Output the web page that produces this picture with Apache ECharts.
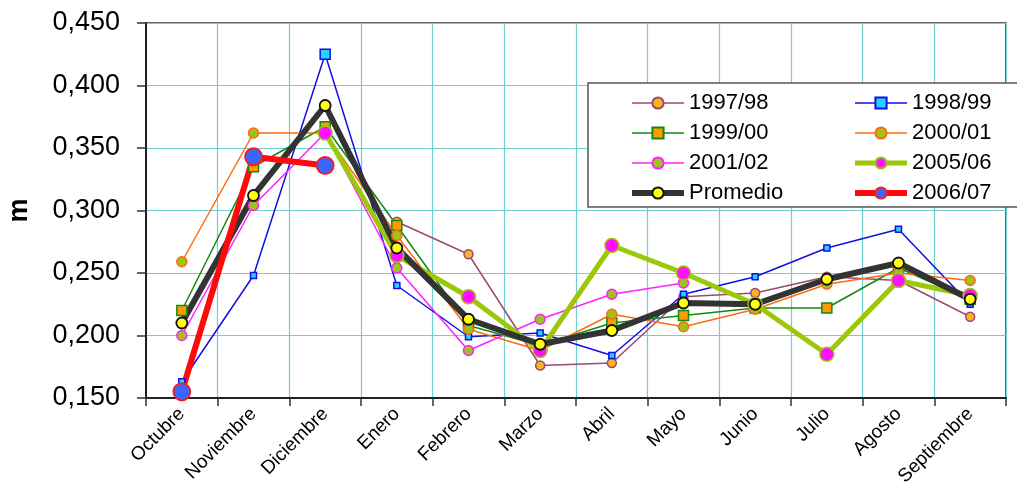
<!DOCTYPE html>
<html>
<head>
<meta charset="utf-8">
<script src="https://cdn.jsdelivr.net/npm/echarts@6/dist/echarts.min.js"></script>
<style>
  html, body { margin: 0; padding: 0; background: #fff; }
  #chart { width: 1017px; height: 490px; }
</style>
</head>
<body>
<div id="chart"></div>
<script>
const categories = ['Octubre','Noviembre','Diciembre','Enero','Febrero','Marzo','Abril','Mayo','Junio','Julio','Agosto','Septiembre'];
const yTicks = [0.15, 0.45, 0.05];

const s1997 = [null, null, null, 0.291, 0.265, 0.176, 0.178, 0.231, 0.234, 0.247, 0.244, 0.215];
const s1998 = [0.163, 0.248, 0.425, 0.240, 0.199, 0.202, 0.184, 0.233, 0.247, 0.270, 0.285, 0.225];
const s1999 = [0.220, 0.335, 0.367, 0.288, 0.208, 0.192, 0.210, 0.216, 0.222, 0.222, 0.254, 0.229];
const s2000 = [0.259, 0.362, 0.362, 0.280, 0.205, 0.188, 0.217, 0.207, 0.221, 0.241, 0.250, 0.244];
const s2001 = [0.200, 0.304, 0.362, 0.254, 0.188, 0.213, 0.233, 0.242, null, null, null, null];
const s2005 = [null, null, 0.362, 0.264, 0.231, 0.188, 0.272, 0.250, 0.225, 0.185, 0.244, 0.232];
const promedio = [0.210, 0.312, 0.384, 0.270, 0.213, 0.193, 0.204, 0.226, 0.225, 0.245, 0.258, 0.229];
const s2006 = [0.155, 0.343, 0.336, null, null, null, null, null, null, null, null, null];

const FONT = '"Liberation Sans", Arial, sans-serif';

function line(name, data, color, width, symbol, size, fill, border, bw) {
  return {
    name: name, type: 'line', data: data,
    symbol: symbol, symbolSize: size, showSymbol: true,
    lineStyle: { color: color, width: width },
    itemStyle: { color: fill, borderColor: border, borderWidth: bw },
    emphasis: { disabled: true },
    animation: false
  };
}

const series = [
  line('1997/98', s1997, '#9b4a72', 1.5, 'circle', 9, '#ffb31a', '#9b4a72', 1.5),
  line('1998/99', s1998, '#1010e0', 1.5, 'rect', function (v, p) { return p.dataIndex === 2 ? 10 : 6; }, '#22d4ff', '#1010e0', 1.5),
  line('1999/00', s1999, '#128a12', 1.5, 'rect', 10, '#ff9a00', '#128a12', 1.5),
  line('2000/01', s2000, '#ff6a10', 1.5, 'circle', 10, '#9cc41a', '#ff6a10', 1.5),
  line('2001/02', s2001, '#ff20ff', 1.5, 'circle', 10, '#9cc41a', '#ff20ff', 1.5),
  line('2005/06', s2005, '#9cc80a', 5, 'circle', 14, '#ff10ff', '#9cc80a', 1.5),
  line('Promedio', promedio, '#333333', 6, 'circle', 11, '#ffff10', '#111111', 1.8),
  line('2006/07', s2006, '#ff0a0a', 6, 'circle', 17, '#3a66ff', '#ff1a1a', 1.8)
];

function legendItem(name, width) {
  return { name: name, lineStyle: { width: width } };
}

const legendCommon = {
  orient: 'vertical',
  top: 87,
  itemWidth: 52,
  itemHeight: 14,
  itemGap: 8,
  textStyle: { fontSize: 22, color: '#000', fontFamily: FONT },
  selectedMode: false,
  z: 5
};

const chart = echarts.init(document.getElementById('chart'), null, { renderer: 'canvas' });
chart.setOption({
  backgroundColor: '#fff',
  animation: false,
  textStyle: { fontFamily: FONT },
  grid: {
    left: 146, right: 11, top: 23, bottom: 92,
    containLabel: false,
    outerBoundsMode: 'none',
    show: true, borderColor: '#333', borderWidth: 1.5, backgroundColor: 'transparent'
  },
  graphic: [{
    type: 'rect', z: 4,
    shape: { x: 588, y: 83, width: 430, height: 124 },
    style: { fill: '#fff', stroke: '#555', lineWidth: 1.5 }
  }],
  legend: [
    Object.assign({}, legendCommon, { left: 624, data: [
      legendItem('1997/98', 1.5), legendItem('1999/00', 1.5), legendItem('2001/02', 1.5), legendItem('Promedio', 6)
    ] }),
    Object.assign({}, legendCommon, { left: 847, data: [
      legendItem('1998/99', 1.5), legendItem('2000/01', 1.5), legendItem('2005/06', 5), legendItem('2006/07', 6)
    ] })
  ],
  xAxis: {
    type: 'category',
    data: categories,
    boundaryGap: true,
    axisLine: { lineStyle: { color: '#222', width: 2 } },
    axisTick: { show: true, length: 8, lineStyle: { color: '#333', width: 1.5 } },
    axisLabel: { rotate: 45, fontSize: 19, color: '#000', margin: 13, interval: 0, fontFamily: FONT },
    splitLine: { show: true, interval: 0, lineStyle: { color: '#70d0d0', width: 1.2 } }
  },
  yAxis: {
    type: 'value',
    min: yTicks[0], max: yTicks[1], interval: yTicks[2],
    name: 'm',
    nameLocation: 'middle',
    nameRotate: 90,
    nameGap: 113,
    nameTextStyle: { fontSize: 27, fontWeight: 'bold', color: '#000', fontFamily: FONT },
    axisLine: { show: true, lineStyle: { color: '#222', width: 2 } },
    axisTick: { show: true, length: 9, inside: false, lineStyle: { color: '#333', width: 1.5 } },
    axisLabel: {
      fontSize: 27, color: '#000', margin: 26, fontFamily: FONT,
      formatter: function (v) { return v.toFixed(3).replace('.', ','); }
    },
    splitLine: { show: true, lineStyle: { color: '#70d0d0', width: 1.2 } }
  },
  series: series
});
</script>
</body>
</html>
